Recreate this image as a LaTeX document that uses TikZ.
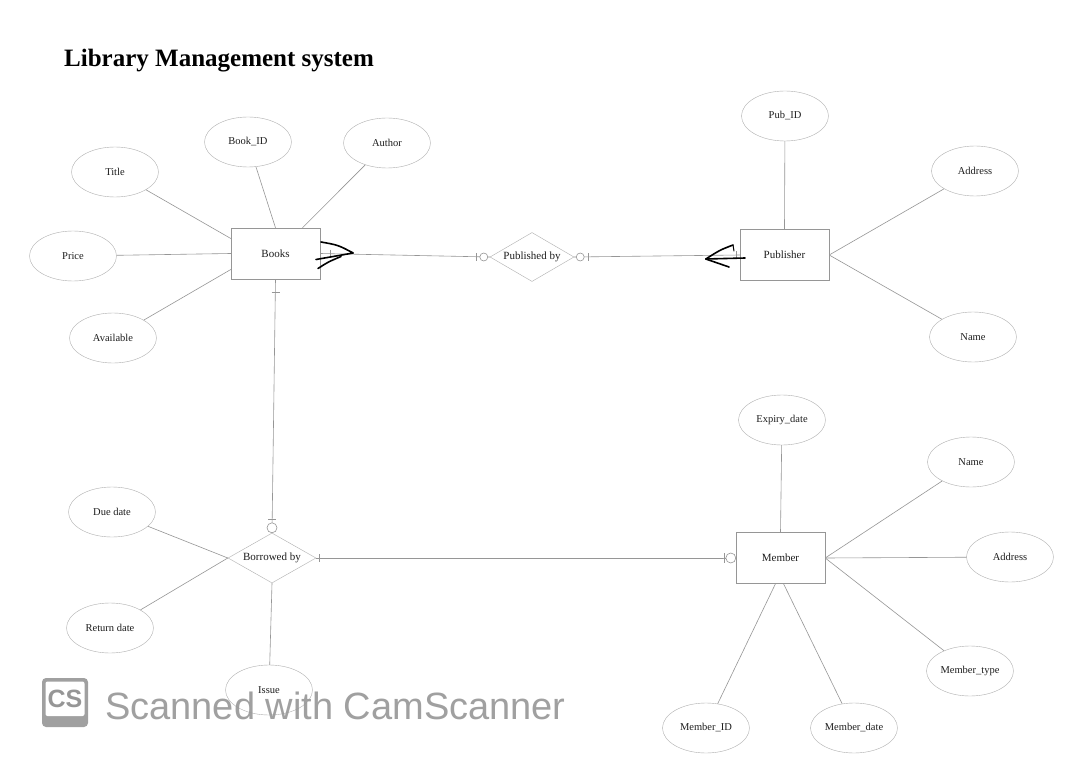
\documentclass[tikz,border=0pt]{standalone}
\usepackage{fontspec}
\setmainfont{Liberation Serif}
\newfontfamily\wmfont{Liberation Sans}
\usetikzlibrary{shapes.geometric}
\definecolor{lg}{RGB}{150,150,150}
\definecolor{eg}{RGB}{175,175,175}
\definecolor{wm}{RGB}{150,150,150}
\definecolor{tx}{RGB}{30,30,30}
\begin{document}
\begin{tikzpicture}[x=1pt,y=-1pt,
  ent/.style={draw=lg, rectangle, minimum width=89pt, minimum height=51pt, inner sep=0pt, text=tx, font=\fontsize{11}{13}\selectfont},
  attr/.style={draw=eg, ellipse, minimum width=87pt, minimum height=50pt, inner sep=0pt, text=tx, font=\fontsize{10.5}{12}\selectfont},
  rel/.style={draw=eg, diamond, aspect=1.7, inner sep=0pt, text=tx, font=\fontsize{11}{13}\selectfont},
  conn/.style={draw=lg, line width=0.6pt},
  mk/.style={draw=lg, line width=0.6pt, fill=white},
  crow/.style={draw=black, line width=1.6pt, line cap=round, line join=round}]
\fill[white] (0,0) rectangle (1080,765);
\useasboundingbox (0,0) rectangle (1080,765);

% title
\node[anchor=base west, inner sep=0pt, text=black, font=\bfseries\fontsize{25}{30}\selectfont] (ttl) at (64,67) {Library Management system};

% entities
\node[ent] (books) at (275.5,253.5) {Books};
\node[ent] (pub) at (784.5,255) {Publisher};
\node[ent] (member) at (780.5,558) {Member};

% relationships
\node[rel, minimum width=84pt, minimum height=49pt] (pubby) at (532,257) {Published by};
\node[rel, minimum width=88pt, minimum height=50pt] (borr) at (272,558) {Borrowed by};

% attributes
\node[attr] (title) at (115,172) {Title};
\node[attr] (bookid) at (248,142) {Book\_ID};
\node[attr] (author) at (387,143) {Author};
\node[attr] (price) at (73,256) {Price};
\node[attr] (avail) at (113,338) {Available};
\node[attr] (pubid) at (785,116) {Pub\_ID};
\node[attr] (paddr) at (975,171) {Address};
\node[attr] (pname) at (973,337) {Name};
\node[attr] (expiry) at (782,420) {Expiry\_date};
\node[attr] (mname) at (971,462) {Name};
\node[attr] (maddr) at (1010,557) {Address};
\node[attr] (mtype) at (970,671) {Member\_type};
\node[attr] (mid) at (706,728) {Member\_ID};
\node[attr] (mdate) at (854,728) {Member\_date};
\node[attr] (due) at (112,512) {Due date};
\node[attr] (ret) at (110,628) {Return date};
\node[attr] (issue) at (269,690) {Issue};

% attribute links
\draw[conn] (title) -- ([yshift=15pt]books.west);
\draw[conn] (price) -- (books.west);
\draw[conn] (avail) -- ([yshift=-16pt]books.west);
\draw[conn] (bookid) -- (books.north);
\draw[conn] (author) -- ([xshift=27pt]books.north);
\draw[conn] (pubid) -- (pub.north);
\draw[conn] (pub.east) -- (paddr);
\draw[conn] (pub.east) -- (pname);
\draw[conn] (expiry) -- (member.north);
\draw[conn] (member.east) -- (mname);
\draw[conn] (member.east) -- (maddr);
\draw[conn] (member.east) -- (mtype);
\draw[conn] ([xshift=-5pt]member.south) -- (mid);
\draw[conn] ([xshift=3pt]member.south) -- (mdate);
\draw[conn] (due) -- (borr.west);
\draw[conn] (ret) -- (borr.west);
\draw[conn] (borr.south) -- (issue);

% relationship links
\draw[conn] (books.east) -- (pubby.west);
\draw[conn] (pubby.east) -- (pub.west);
\draw[conn] (books.south) -- (borr.north);
\draw[conn] (borr.east) -- (member.west);

% cardinality marks
\draw[mk] ([xshift=-14pt,yshift=4pt]pubby.west) -- ([xshift=-14pt,yshift=-4pt]pubby.west);
\draw[mk] ([xshift=-6pt]pubby.west) circle (4pt);
\draw[mk] ([xshift=6pt]pubby.east) circle (4pt);
\draw[mk] ([xshift=14pt,yshift=4pt]pubby.east) -- ([xshift=14pt,yshift=-4pt]pubby.east);
\draw[mk] ([xshift=-4pt,yshift=-13pt]books.south) -- ([xshift=4pt,yshift=-13pt]books.south);
\draw[mk] ([yshift=5pt]borr.north) circle (5pt);
\draw[mk] ([xshift=-4pt,yshift=14pt]borr.north) -- ([xshift=4pt,yshift=14pt]borr.north);
\draw[mk] ([xshift=3pt,yshift=4pt]borr.east) -- ([xshift=3pt,yshift=-4pt]borr.east);
\draw[mk] ([xshift=-5pt]member.west) circle (5pt);
\draw[mk] ([xshift=-12pt,yshift=5pt]member.west) -- ([xshift=-12pt,yshift=-5pt]member.west);
\draw[mk] ([xshift=10pt,yshift=4pt]books.east) -- ([xshift=10pt,yshift=-4pt]books.east);
\draw[mk] ([xshift=-4pt,yshift=4pt]pub.west) -- ([xshift=-4pt,yshift=-4pt]pub.west);

% hand-drawn crow's feet
\coordinate (ba) at ([xshift=33pt,yshift=0.5pt]books.east);
\draw[crow] (321,242) .. controls (338,245) .. (ba) -- (316,259.5);
\draw[crow] (318,268.5) .. controls (328,262) .. (341,256.5);
\coordinate (pa) at ([xshift=-34pt,yshift=-4pt]pub.west);
\draw[crow] (733,245) .. controls (720,250) .. (pa) -- (745,258);
\draw[crow] (pa) -- (729,267);
\draw[black, line width=1pt, line cap=round] (733,245) -- (734,251);

% watermark
\fill[wm, rounded corners=4pt, fill opacity=0.9] (42,678) rectangle (88,727);
\fill[white, rounded corners=2pt] (45.5,681.5) rectangle (84.5,716);
\node[inner sep=0pt, text=wm, font=\wmfont\bfseries\fontsize{25}{28}\selectfont] (wmlogo) at (65,699) {CS};
\node[anchor=base west, inner sep=0pt, text=wm, text opacity=0.9, font=\wmfont\fontsize{38}{40}\selectfont] (wmtext) at (105,719) {Scanned with CamScanner};
\end{tikzpicture}
\end{document}
